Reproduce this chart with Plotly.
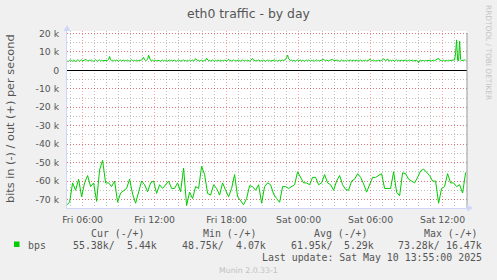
import plotly.graph_objects as go
from datetime import datetime, timedelta

# ---------------- data ----------------
title_text = "eth0 traffic - by day"
y_label = "bits in (-) / out (+) per second"
side_text = "RRDTOOL / TOBI OETIKER"
footer_text = "Munin 2.0.33-1"
last_update = "Last update: Sat May 10 13:55:00 2025"

x_range = ["2025-05-09 04:42", "2025-05-10 14:02"]

# inbound bps (k), 15-minute samples starting Fri 04:40 (drawn negated)
in_start = datetime(2025, 5, 9, 4, 40)
in_step_min = 15
bps_in_k = [73, 71.5, 61, 65, 59, 68.5, 61, 57, 63, 61,
            71, 54, 48.75, 61, 61, 63, 60, 71.5, 66.5, 65,
            64, 59, 67, 72, 66, 60, 62, 65.8, 61, 60,
            66.7, 62, 64, 62, 60, 64, 64, 61, 65.8, 53,
            73.28, 66, 69.5, 63, 64, 52, 56.5, 66.7, 67.6, 62,
            64, 67.6, 61, 65, 68.5, 64, 56.5, 68.5, 70.4, 72.8,
            69.5, 62.5, 63, 65, 62, 72, 63, 61, 62, 67,
            69.5, 71.5, 63, 63, 64, 63, 62, 55, 58, 61,
            61, 62, 58, 58, 62, 61, 56.5, 61, 62, 65,
            60, 57, 62, 64.5, 65, 60, 59, 56, 58, 61.5,
            66, 62, 58, 58, 57, 56, 64, 64, 64, 55,
            66, 68, 55.5, 56, 59, 60, 61, 58, 54.5, 53.5,
            55, 57, 60, 60, 72, 64, 63, 56, 61, 61,
            63, 62, 66.5, 55.38]

# outbound bps (k), 5-minute samples starting Fri 04:45
out_start = datetime(2025, 5, 9, 4, 45)
out_step_min = 5
bps_out_k = [
    5.1, 4.9, 5.4, 5.6, 5.2, 5.0, 5.5, 5.3, 4.8, 5.2, 5.6, 5.4,
    5.0, 5.3, 5.7, 5.1, 5.2, 5.5, 6.1, 5.4, 5.0, 5.3, 5.5, 5.2,
    5.6, 5.1, 4.9, 5.4, 5.7, 5.2, 5.0, 5.3, 5.6, 5.1, 5.4, 5.2,
    5.3, 5.0, 5.5, 5.2, 5.4, 5.9, 7.5, 5.6, 5.2, 5.4, 5.1, 5.5,
    5.2, 5.6, 5.3, 4.9, 5.4, 5.5, 5.1, 5.3, 5.6, 5.0, 5.4, 5.2,
    5.5, 5.2, 5.0, 5.4, 5.7, 5.3, 5.1, 5.4, 5.2, 5.6, 5.0, 5.3,
    5.4, 5.1, 5.6, 6.2, 7.0, 5.8, 5.3, 5.5, 6.0, 8.2, 6.0, 5.4,
    5.2, 5.5, 5.0, 5.6, 5.3, 5.1, 5.4, 5.5, 5.2, 4.9, 5.3, 5.6,
    5.1, 5.4, 5.2, 5.5, 5.0, 5.3, 5.6, 5.2, 5.4, 5.1, 5.3, 5.5,
    5.2, 4.9, 5.4, 5.6, 5.3, 5.0, 5.4, 5.2, 5.7, 5.1, 5.3, 5.0,
    5.4, 5.2, 5.5, 5.1, 5.3, 5.6, 5.0, 5.4, 6.3, 5.5, 5.2, 5.4,
    5.1, 5.3, 5.5, 5.2, 5.0, 5.6, 5.4, 6.5, 5.5, 5.2, 5.4, 5.1,
    5.3, 5.6, 5.2, 5.0, 5.4, 5.1, 5.5, 5.3, 5.2, 5.6, 5.0, 5.4,
    5.2, 5.5, 5.3, 5.1, 5.4, 6.0, 5.5, 5.2, 5.0, 5.3, 5.6, 5.2,
    5.4, 5.1, 5.3, 5.5, 5.2, 5.0, 5.4, 5.6, 5.3, 5.1, 5.4, 5.2,
    5.5, 5.2, 5.0, 5.4, 5.7, 6.4, 5.5, 5.3, 5.1, 5.4, 5.2, 5.6,
    5.3, 5.0, 5.4, 5.2, 5.5, 5.1, 4.8, 5.3, 5.5, 5.2, 5.4, 5.0,
    5.2, 5.5, 5.3, 5.6, 5.1, 5.4, 5.0, 5.3, 5.5, 5.2, 5.4, 5.6,
    5.3, 5.5, 5.9, 7.0, 8.2, 6.3, 5.6, 5.3, 5.5, 5.1, 5.4, 5.2,
    5.0, 5.4, 5.6, 5.2, 5.3, 5.5, 5.1, 5.4, 5.2, 5.0, 5.3, 5.5,
    5.2, 5.6, 5.3, 5.1, 5.4, 5.2, 5.5, 5.0, 5.3, 5.6, 5.2, 5.4,
    5.1, 5.3, 5.5, 5.8, 6.0, 5.4, 5.2, 5.5, 5.3, 5.1, 5.4, 5.6,
    5.5, 6.0, 5.3, 5.4, 5.1, 5.3, 5.5, 5.2, 4.9, 5.3, 5.6, 5.2,
    5.4, 5.1, 5.3, 5.0, 5.5, 5.2, 5.4, 5.6, 5.1, 5.3, 5.5, 5.2,
    5.3, 5.5, 5.1, 5.4, 5.2, 5.6, 5.3, 5.0, 5.4, 5.2, 5.5, 5.1,
    5.4, 5.2, 6.2, 5.5, 5.1, 5.3, 5.6, 5.2, 5.0, 5.4, 5.2, 5.5,
    5.3, 5.1, 5.4, 5.6, 6.3, 5.4, 5.2, 5.5, 6.2, 5.3, 5.1, 5.4,
    5.2, 5.5, 5.3, 5.0, 5.4, 5.7, 5.2, 5.4, 5.1, 5.3, 5.5, 5.2,
    5.4, 5.2, 5.5, 5.3, 5.1, 5.4, 5.6, 5.2, 5.3, 5.5, 5.1, 5.3,
    5.2, 5.4, 5.1, 4.07, 5.3, 5.5, 5.2, 5.4, 5.3, 5.1, 5.4, 5.2,
    5.3, 5.5, 5.2, 5.4, 5.1, 5.3, 5.6, 5.2, 5.5, 5.8, 6.2, 6.5,
    5.6, 5.3, 5.2, 5.4, 5.5, 5.1, 5.3, 5.4, 5.2, 5.5, 5.3, 5.4,
    5.2, 5.4, 5.3, 5.6, 9.5, 16.47, 5.6, 5.0, 15.8, 6.0, 5.3, 5.5,
    5.3, 5.6, 5.44]

y_range = [-74600, 21300]
y_tick_vals = [-70000, -60000, -50000, -40000, -30000, -20000, -10000, 0, 10000, 20000]
y_tick_text = ["-70 k", "-60 k", "-50 k", "-40 k", "-30 k", "-20 k", "-10 k", "0", "10 k", "20 k"]

legend_name = "bps"
legend_heads = ["Cur (-/+)", "Min (-/+)", "Avg (-/+)", "Max (-/+)"]
legend_in = ["55.38k/", "48.75k/", "61.95k/", "73.28k/"]
legend_out = ["5.44k", "4.07k", "5.29k", "16.47k"]

# ---------------- layout constants ----------------
W, H = 497, 280
L, T, PW, PH = 67, 31, 400, 177
GREEN = "#00CC00"
FONT = "#555555"
SANS = "DejaVu Sans"
MONO = "DejaVu Sans Mono"


def px(x):
    return (x - L) / PW


def py(y):
    return (T + PH - y) / PH


in_times = [in_start + timedelta(minutes=in_step_min * i) for i in range(len(bps_in_k))]
out_times = [out_start + timedelta(minutes=out_step_min * i) for i in range(len(bps_out_k))]

fig = go.Figure()
fig.add_trace(go.Scatter(x=in_times, y=[-v * 1000 for v in bps_in_k], mode="lines",
                         line=dict(color=GREEN, width=1), hoverinfo="skip"))
fig.add_trace(go.Scatter(x=out_times, y=[v * 1000 for v in bps_out_k], mode="lines",
                         line=dict(color=GREEN, width=1), hoverinfo="skip"))

MAJ = "rgba(255,0,0,0.38)"
MIN = "rgba(120,120,120,0.45)"
DOTS = "1px,2px"

fig.update_layout(
    width=W, height=H,
    margin=dict(l=L, r=W - L - PW, t=T, b=H - T - PH, pad=0),
    paper_bgcolor="#F0F0F0", plot_bgcolor="#FFFFFF",
    showlegend=False,
    title=dict(text=title_text, x=0.5, xref="container", xanchor="center",
               y=1 - 14 / H, yref="container", yanchor="middle",
               font=dict(family=SANS, size=12.4, color=FONT)),
    xaxis=dict(type="date", range=x_range, dtick=6 * 3600 * 1000, tick0="2025-05-09 00:00",
               tickformat="%a %H:%M", showgrid=True, gridcolor=MAJ, griddash=DOTS, gridwidth=1,
               minor=dict(dtick=3600 * 1000, tick0="2025-05-09 00:00", showgrid=True,
                          gridcolor=MIN, griddash=DOTS, gridwidth=1),
               showline=True, linecolor="#CFD6F8", linewidth=1, ticks="",
               ticklabelstandoff=3, zeroline=False,
               tickfont=dict(family=SANS, size=9.3, color=FONT)),
    yaxis=dict(range=y_range, tickmode="array", tickvals=y_tick_vals, ticktext=y_tick_text,
               showgrid=True, gridcolor=MAJ, griddash=DOTS, gridwidth=1,
               minor=dict(dtick=5000, tick0=0, showgrid=True, gridcolor=MIN, griddash=DOTS, gridwidth=1),
               zeroline=True, zerolinecolor="#000000", zerolinewidth=1.3,
               showline=True, linecolor="#CFD6F8", linewidth=1, ticks="",
               ticklabelstandoff=5,
               tickfont=dict(family=SANS, size=9.3, color=FONT)),
)

# right border line and axis arrows
fig.add_shape(type="line", xref="paper", yref="paper", x0=1, x1=1, y0=0, y1=py(33),
              line=dict(color="#999999", width=1))
fig.add_shape(type="path", xref="paper", yref="paper",
              path=f"M {px(63.5)} {py(31)} L {px(70.5)} {py(31)} L {px(67)} {py(25)} Z",
              fillcolor="#CFD6F8", line=dict(width=0))
fig.add_shape(type="path", xref="paper", yref="paper",
              path=f"M {px(467)} {py(204.5)} L {px(467)} {py(211.5)} L {px(473)} {py(208)} Z",
              fillcolor="#CFD6F8", line=dict(width=0))

# legend swatch
fig.add_shape(type="rect", xref="paper", yref="paper",
              x0=px(14), x1=px(19.5), y0=py(241.5), y1=py(247),
              fillcolor=GREEN, line=dict(width=0))


def text(s, x, y, anchor="left", font=MONO, size=9.9, color=FONT, angle=0):
    fig.add_annotation(text=s, x=px(x), y=py(y), xref="paper", yref="paper",
                       xanchor=anchor, yanchor="middle", showarrow=False, borderpad=0,
                       textangle=angle, font=dict(family=font, size=size, color=color))


text(y_label, 10, 119, anchor="center", font=SANS, size=11.3, angle=-90)
text(side_text, 489, 52, anchor="center", font=SANS, size=7.4, color="#C4C4C4", angle=90)

head_x = [90, 202, 313, 423]
in_x = [72, 181, 290, 397]
out_right = [158, 266.5, 375, 483]
for h, x in zip(legend_heads, head_x):
    text(h, x, 233.5)
text(legend_name, 27, 245)
for v, x in zip(legend_in, in_x):
    text(v, x, 245)
for v, x in zip(legend_out, out_right):
    text(v, x, 245, anchor="right")
text(last_update, 482.5, 257.5, anchor="right")
text(footer_text, 248.5, 270, anchor="center", font=SANS, size=7.8, color="#C0C0C0")

fig.write_html("out.html")
